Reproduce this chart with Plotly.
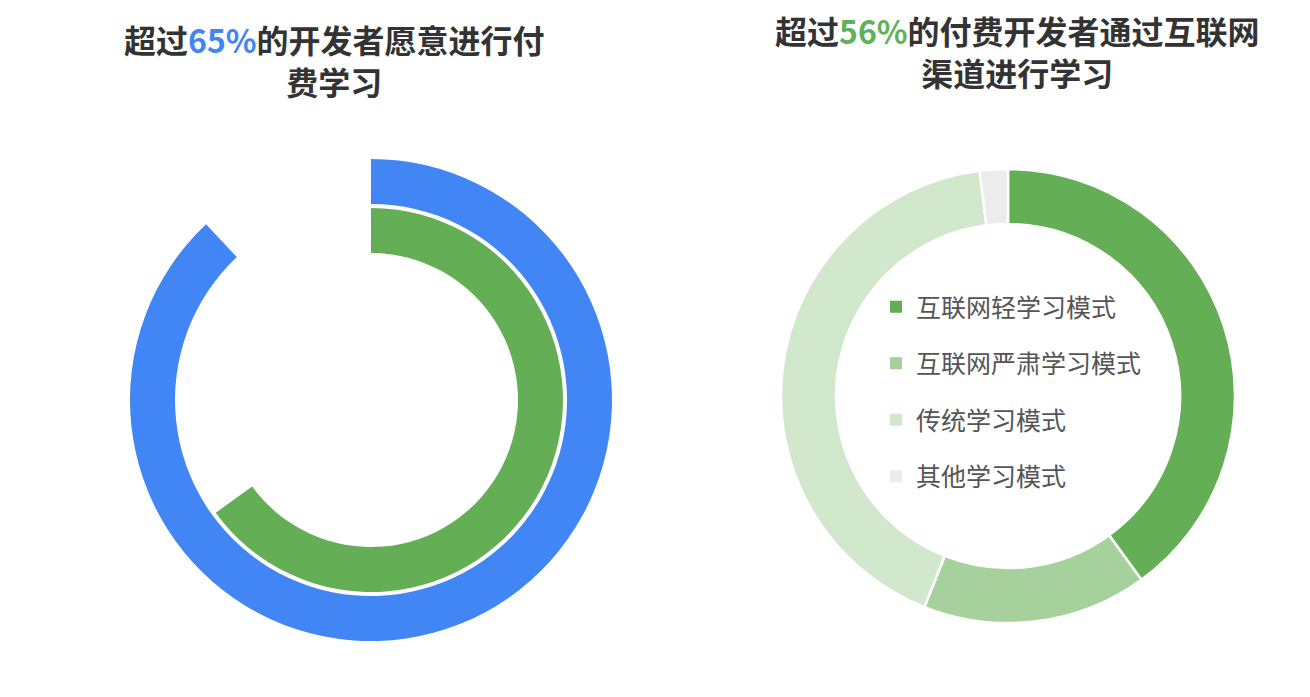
import plotly.graph_objects as go

# left chart: two progress rings (percent of a full circle)
ring_labels = ["愿意付费学习", "付费学习"]
ring_values = [88, 65]
ring_colors = ["#4285f4", "#64ae55"]

# right chart: paid developers by learning channel
mode_labels = ["互联网轻学习模式", "互联网严肃学习模式", "传统学习模式", "其他学习模式"]
mode_values = [40, 16, 42, 2]
mode_colors = ["#64ae55", "#a6d19c", "#d1e8cd", "#ececec"]

title_left = "<b>超过<span style='color:#4285f4'>65%</span>的开发者愿意进行付<br>费学习</b>"
title_right = "<b>超过<span style='color:#5fb257'>56%</span>的付费开发者通过互联网<br>渠道进行学习</b>"

W, H = 1310, 697
OFF = 8  # page body margin
FONT = "Noto Sans CJK SC, Noto Sans, sans-serif"


def px(x):
    return (x - OFF) / W


def py(y):
    return (H - (y - OFF)) / H


def dom(cx, cy, r):
    # pixel centre/radius on the page -> paper domain
    return dict(x=[px(cx - r), px(cx + r)], y=[py(cy + r), py(cy - r)])


fig = go.Figure()

ring_geom = [(371, 400, 241, 196), (371, 400, 192, 147)]
for label, val, color, (cx, cy, r_out, r_in) in zip(ring_labels, ring_values, ring_colors, ring_geom):
    fig.add_trace(go.Pie(
        labels=[label, "其余"], values=[val, 100 - val],
        marker=dict(colors=[color, "rgba(0,0,0,0)"], line=dict(width=0)),
        hole=r_in / r_out, domain=dom(cx, cy, r_out),
        sort=False, direction="clockwise", rotation=0,
        textinfo="none", hoverinfo="label+percent", showlegend=False,
    ))

fig.add_trace(go.Pie(
    labels=mode_labels, values=mode_values,
    marker=dict(colors=mode_colors, line=dict(color="white", width=2.5)),
    hole=172 / 227, domain=dom(1008, 396, 227),
    sort=False, direction="clockwise", rotation=0,
    textinfo="none", hoverinfo="label+percent", showlegend=False,
))

# legend entries (one group each so the rows can be spaced out)
for label, color in zip(mode_labels, mode_colors):
    fig.add_trace(go.Scatter(
        x=[None], y=[None], mode="markers", name=label, legendgroup=label,
        marker=dict(symbol="square", size=12, color=color),
    ))

fig.add_annotation(text=title_left, x=px(334), y=py(60), xref="paper", yref="paper",
                   showarrow=False, xanchor="center", yanchor="middle", align="center",
                   font=dict(size=32, color="#333333", family=FONT))
fig.add_annotation(text=title_right, x=px(1018), y=py(51), xref="paper", yref="paper",
                   showarrow=False, xanchor="center", yanchor="middle", align="center",
                   font=dict(size=32, color="#333333", family=FONT))

fig.update_xaxes(visible=False)
fig.update_yaxes(visible=False)
fig.update_layout(
    width=W, height=H,
    margin=dict(l=0, r=0, t=0, b=0),
    paper_bgcolor="white", plot_bgcolor="white",
    font=dict(family=FONT),
    legend=dict(x=px(876), y=py(284), xanchor="left", yanchor="top",
                traceorder="grouped", tracegroupgap=21, itemsizing="constant",
                bgcolor="rgba(0,0,0,0)", font=dict(size=25, color="#555555", family=FONT)),
)

fig.write_html("out.html")
